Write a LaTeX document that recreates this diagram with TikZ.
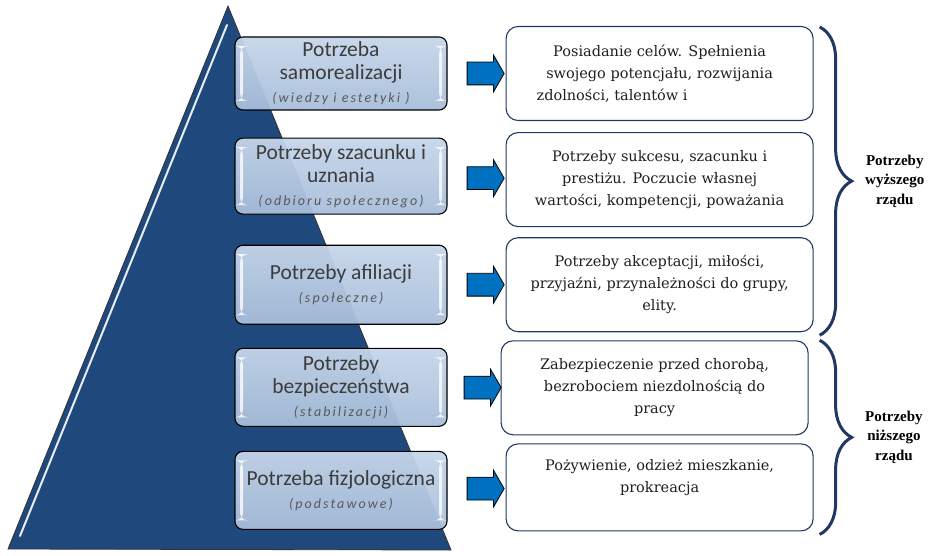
\documentclass[tikz,border=0pt]{standalone}
\usepackage{fontspec}
\setmainfont{DejaVu Serif}
\newfontfamily\calibri{Carlito}
\newfontfamily\calibrisp[LetterSpace=15]{Carlito}
\newfontfamily\braceserif{Liberation Serif}
\usetikzlibrary{positioning,calc,shapes.arrows,decorations.pathreplacing}

\definecolor{pyramid}{HTML}{1F497D}
\definecolor{levtop}{HTML}{C6D6EA}
\definecolor{levbot}{HTML}{A8BEDA}
\definecolor{navy}{HTML}{1F3864}
\definecolor{pushblue}{HTML}{0070C0}
\definecolor{levtext}{HTML}{3C3C3C}

\newcommand{\sub}[1]{{\calibrisp\fontsize{14}{17}\selectfont\itshape\color{levtext!85}#1}}

\tikzset{
 level/.style={draw=black, line width=1.1pt, rounded corners=8pt,
  top color=levtop, bottom color=levbot, fill opacity=0.95, text opacity=1,
  minimum width=212pt, align=center, text=levtext, inner sep=2pt,
  font=\calibri\fontsize{21.5}{23}\selectfont,
  path picture={
   \fill[white,opacity=0.8] ([xshift=5pt,yshift=-9pt]path picture bounding box.north west)
     rectangle ([xshift=8pt,yshift=9pt]path picture bounding box.south west);
   \fill[white,opacity=0.8] ([xshift=-5pt,yshift=-9pt]path picture bounding box.north east)
     rectangle ([xshift=-8pt,yshift=9pt]path picture bounding box.south east);}},
 desc/.style={draw=navy, line width=1.1pt, rounded corners=12pt, fill=white,
  minimum width=307pt, minimum height=94pt, align=center, text=black!88,
  font=\fontsize{14.5}{22}\selectfont},
 push/.style={single arrow, draw=black, line width=0.8pt, fill=pushblue,
  minimum height=37pt, single arrow head extend=7pt, single arrow tip angle=120,
  inner sep=11pt},
 group/.style={decorate, decoration={brace, amplitude=32pt}, draw=navy, line width=3pt},
 grouplabel/.style={align=center, anchor=west, font=\braceserif\bfseries\fontsize{15}{19.5}\selectfont}
}

\begin{document}
\begin{tikzpicture}[x=1pt,y=1pt]
 \useasboundingbox (0,0) rectangle (944,555);

 % piramida
 \filldraw[fill=pyramid, draw=black!80, line width=0.8pt] (228,549) -- (8,6) -- (451,5) -- cycle;
 \draw[white, line width=2pt, opacity=0.9, line cap=round] (227,530) -- (20,19);

 \node[level, minimum height=73pt] (samo) at (341,481.5)
  {Potrzeba\\samorealizacji\\\sub{(wiedzy i estetyki )}};
 \node[level, minimum height=76pt, below=27pt of samo] (szac)
  {Potrzeby szacunku i\\uznania\\\sub{(odbioru społecznego)}};
 \node[level, minimum height=79pt, below=30pt of szac] (afil)
  {Potrzeby afiliacji\\\sub{(społeczne)}};
 \node[level, minimum height=78pt, below=23pt of afil] (bezp)
  {Potrzeby\\bezpieczeństwa\\\sub{(stabilizacji)}};
 \node[level, minimum height=78pt, below=24pt of bezp] (fizj)
  {Potrzeba fizjologiczna\\\sub{(podstawowe)}};

 \node[desc, right=58pt of samo] (samoOpis)
  {Posiadanie celów. Spełnienia\\swojego potencjału, rozwijania\\\makebox[246pt][l]{zdolności, talentów i}};
 \node[desc, below=11pt of samoOpis] (szacOpis)
  {Potrzeby sukcesu, szacunku i\\prestiżu. Poczucie własnej\\wartości, kompetencji, poważania};
 \node[desc, below=10pt of szacOpis] (afilOpis)
  {Potrzeby akceptacji, miłości,\\przyjaźni, przynależności do grupy,\\elity.};
 \node[desc, below=8pt of afilOpis, xshift=-5pt] (bezpOpis)
  {Zabezpieczenie przed chorobą,\\bezrobociem niezdolnością do\\pracy};
 \node[desc, minimum height=87pt, below=8pt of bezpOpis, xshift=5pt] (fizjOpis)
  {Pożywienie, odzież mieszkanie,\\prokreacja\\\mbox{}};

 \foreach \a in {samo,szac,afil,bezp,fizj}
  \node[push] (\a Strz) at ($(\a.east)!0.6!(\a Opis.west)$) {};

 \coordinate (wyzGora) at ($(samoOpis.north east)+(6,-1)$);
 \coordinate (wyzDol) at ($(afilOpis.south east)+(6,-3)$);
 \coordinate (nizGora) at ($(fizjOpis.east |- bezpOpis.north)+(6,0)$);
 \coordinate (nizDol) at ($(fizjOpis.south east)+(6,-3)$);
 \draw[group] (wyzGora) -- (wyzDol);
 \draw[group] (nizGora) -- (nizDol);

 \node[grouplabel] (wyzsze) at ($(wyzGora)!0.5!(wyzDol)+(42,0)$) {Potrzeby\\wyższego\\rządu};
 \node[grouplabel] (nizsze) at ($(nizGora)!0.5!(nizDol)+(42,0)$) {Potrzeby\\niższego\\rządu};
\end{tikzpicture}
\end{document}
